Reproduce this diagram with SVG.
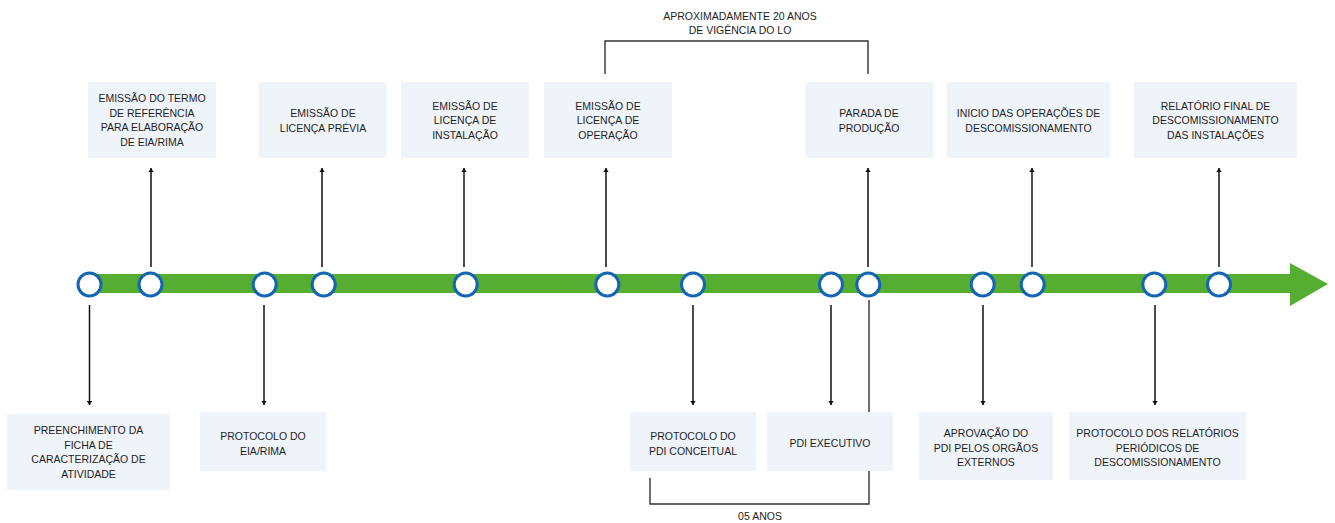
<svg xmlns="http://www.w3.org/2000/svg" width="1335" height="523" viewBox="0 0 1335 523">
<style>
.box{fill:#eff3fa}
.t{font-family:"Liberation Sans",Arial,sans-serif;font-size:10.5px;fill:#1e1e1e;text-anchor:middle}
.conn{stroke:#111;stroke-width:1.5;fill:none}
.br{stroke:#333;stroke-width:1.4;fill:none}
.node{fill:#fff;stroke:#1466b5;stroke-width:3}
</style>
<defs>
<marker id="ah" viewBox="0 0 6 8" refX="6" refY="4" markerWidth="4" markerHeight="5.3" orient="auto" markerUnits="userSpaceOnUse">
<path d="M0,0 L6,4 L0,8 Z" fill="#111"/>
</marker>
</defs>
<rect width="1335" height="523" fill="#fff"/>
<g id="timeline">
<rect x="90" y="274" width="1202" height="19" fill="#55ad32"/>
<polygon points="1290,263 1328,284 1290,306" fill="#55ad32"/>
</g>
<g id="connectors">
<line class="conn" x1="151" y1="267" x2="151" y2="168" marker-end="url(#ah)"/>
<line class="conn" x1="322" y1="267" x2="322" y2="168" marker-end="url(#ah)"/>
<line class="conn" x1="464" y1="267" x2="464" y2="168" marker-end="url(#ah)"/>
<line class="conn" x1="606" y1="267" x2="606" y2="168" marker-end="url(#ah)"/>
<line class="conn" x1="868" y1="267" x2="868" y2="168" marker-end="url(#ah)"/>
<line class="conn" x1="1032" y1="267" x2="1032" y2="168" marker-end="url(#ah)"/>
<line class="conn" x1="1219" y1="267" x2="1219" y2="168" marker-end="url(#ah)"/>
<line class="conn" x1="89.5" y1="305" x2="89.5" y2="405" marker-end="url(#ah)"/>
<line class="conn" x1="264" y1="305" x2="264" y2="405" marker-end="url(#ah)"/>
<line class="conn" x1="693" y1="305" x2="693" y2="405" marker-end="url(#ah)"/>
<line class="conn" x1="831" y1="305" x2="831" y2="405" marker-end="url(#ah)"/>
<line class="conn" x1="983" y1="305" x2="983" y2="405" marker-end="url(#ah)"/>
<line class="conn" x1="1155" y1="305" x2="1155" y2="405" marker-end="url(#ah)"/>
<polyline class="br" points="605,74 605,41 868,41 868,74"/>
<polyline class="br" points="869,300 869,504 650,504 650,478"/>
</g>
<g id="nodes-circles">
<circle class="node" cx="89.5" cy="284.5" r="11.5"/>
<circle class="node" cx="150.5" cy="284.5" r="11.5"/>
<circle class="node" cx="264.7" cy="284.5" r="11.5"/>
<circle class="node" cx="323.7" cy="284.5" r="11.5"/>
<circle class="node" cx="465.7" cy="284.5" r="11.5"/>
<circle class="node" cx="607.3" cy="284.5" r="11.5"/>
<circle class="node" cx="693" cy="284.5" r="11.5"/>
<circle class="node" cx="831" cy="284.5" r="11.5"/>
<circle class="node" cx="868.3" cy="284.5" r="11.5"/>
<circle class="node" cx="982.7" cy="284.5" r="11.5"/>
<circle class="node" cx="1032.7" cy="284.5" r="11.5"/>
<circle class="node" cx="1154.3" cy="284.5" r="11.5"/>
<circle class="node" cx="1219" cy="284.5" r="11.5"/>
</g>
<g id="lbl-20anos">
<text class="t" x="740" y="20">APROXIMADAMENTE 20 ANOS</text>
<text class="t" x="740" y="34">DE VIGÊNCIA DO LO</text>
</g>
<g id="lbl-05anos">
<text class="t" x="760" y="520">05 ANOS</text>
</g>
<g id="n-termo">
<rect class="box" x="88" y="82" width="128" height="76"/>
<text class="t" x="152" y="102">EMISSÃO DO TERMO</text>
<text class="t" x="152" y="116.5">DE REFERÊNCIA</text>
<text class="t" x="152" y="131">PARA ELABORAÇÃO</text>
<text class="t" x="152" y="145.5">DE EIA/RIMA</text>
</g>
<g id="n-lp">
<rect class="box" x="259" y="82" width="128" height="76"/>
<text class="t" x="323" y="117">EMISSÃO DE</text>
<text class="t" x="323" y="131.5">LICENÇA PRÉVIA</text>
</g>
<g id="n-li">
<rect class="box" x="401" y="82" width="128" height="76"/>
<text class="t" x="465" y="109.5">EMISSÃO DE</text>
<text class="t" x="465" y="124">LICENÇA DE</text>
<text class="t" x="465" y="138.5">INSTALAÇÃO</text>
</g>
<g id="n-lo">
<rect class="box" x="544" y="82" width="128" height="76"/>
<text class="t" x="608" y="109.5">EMISSÃO DE</text>
<text class="t" x="608" y="124">LICENÇA DE</text>
<text class="t" x="608" y="138.5">OPERAÇÃO</text>
</g>
<g id="n-parada">
<rect class="box" x="805" y="82" width="128" height="76"/>
<text class="t" x="869" y="117">PARADA DE</text>
<text class="t" x="869" y="131.5">PRODUÇÃO</text>
</g>
<g id="n-inicio">
<rect class="box" x="947" y="82" width="163" height="76"/>
<text class="t" x="1028.5" y="117">INICIO DAS OPERAÇÕES DE</text>
<text class="t" x="1028.5" y="131.5">DESCOMISSIONAMENTO</text>
</g>
<g id="n-final">
<rect class="box" x="1134" y="82" width="163" height="76"/>
<text class="t" x="1215.5" y="109.5">RELATÓRIO FINAL DE</text>
<text class="t" x="1215.5" y="124">DESCOMISSIONAMENTO</text>
<text class="t" x="1215.5" y="138.5">DAS INSTALAÇÕES</text>
</g>
<g id="n-ficha">
<rect class="box" x="7" y="414" width="163" height="76"/>
<text class="t" x="88.5" y="434">PREENCHIMENTO DA</text>
<text class="t" x="88.5" y="448.5">FICHA DE</text>
<text class="t" x="88.5" y="463">CARACTERIZAÇÃO DE</text>
<text class="t" x="88.5" y="477.5">ATIVIDADE</text>
</g>
<g id="n-eia">
<rect class="box" x="200" y="412" width="126" height="59"/>
<text class="t" x="263" y="440">PROTOCOLO DO</text>
<text class="t" x="263" y="454.5">EIA/RIMA</text>
</g>
<g id="n-pdic">
<rect class="box" x="630" y="412" width="126" height="59"/>
<text class="t" x="693" y="440">PROTOCOLO DO</text>
<text class="t" x="693" y="454.5">PDI CONCEITUAL</text>
</g>
<g id="n-pdie">
<rect class="box" x="767" y="412" width="126" height="59"/>
<text class="t" x="830" y="447">PDI EXECUTIVO</text>
</g>
<g id="n-aprov">
<rect class="box" x="919" y="412" width="134" height="68"/>
<text class="t" x="986" y="437">APROVAÇÃO DO</text>
<text class="t" x="986" y="451.5">PDI PELOS ORGÃOS</text>
<text class="t" x="986" y="466">EXTERNOS</text>
</g>
<g id="n-periodicos">
<rect class="box" x="1069" y="412" width="177" height="68"/>
<text class="t" x="1157.5" y="437">PROTOCOLO DOS RELATÓRIOS</text>
<text class="t" x="1157.5" y="451.5">PERIÓDICOS DE</text>
<text class="t" x="1157.5" y="466">DESCOMISSIONAMENTO</text>
</g>
</svg>
